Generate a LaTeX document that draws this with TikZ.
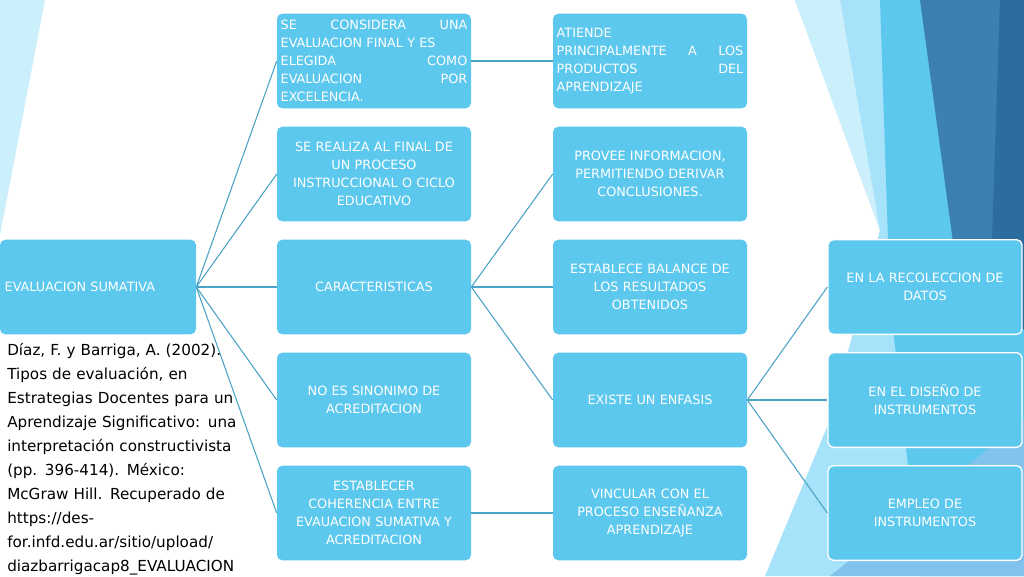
\documentclass[tikz,border=0pt]{standalone}
\usepackage{fontspec}
\setmainfont{DejaVu Sans}
\definecolor{boxblue}{HTML}{5CC8EE}
\definecolor{linkblue}{HTML}{4BA3C6}
\definecolor{steelblue}{HTML}{3C7FB1}
\definecolor{deepblue}{HTML}{2C6DA0}
\tikzset{
  box/.style={rectangle,rounded corners=4pt,fill=boxblue,text=white,
    minimum width=145.5pt,minimum height=71pt,text width=140pt,align=center,
    font=\fontsize{9.6}{13.5}\selectfont,inner sep=2pt},
  wbox/.style={box,draw=white,line width=1pt},
  link/.style={linkblue,line width=0.8pt}
}
\begin{document}
\begin{tikzpicture}[x=0.75pt,y=-0.75pt]
  \useasboundingbox (0,0) rectangle (1024,576);
  % background
  \fill[white] (0,0) rectangle (1024,576);
  \fill[cyan!20] (0,0) -- (45,0) -- (0,235) -- cycle;
  \fill[cyan!35] (795,0) -- (1024,0) -- (1024,576) -- (765,576) -- (830,420) -- (880,230) -- cycle;
  \fill[cyan!20] (795,0) -- (840,0) -- (880,230) -- cycle;
  \fill[boxblue] (880,0) -- (1024,0) -- (1024,576) -- (920,576) -- (890,300) -- cycle;
  \fill[steelblue] (920,0) -- (1024,0) -- (1024,290) -- (965,330) -- cycle;
  \fill[deepblue] (1000,0) -- (1024,0) -- (1024,330) -- (990,300) -- cycle;
  \fill[cyan!80!blue!50] (830,576) -- (1024,420) -- (1024,576) -- cycle;
  % nodes
  \node[box,align=left,minimum width=147pt] (root) at (98,287) {EVALUACION SUMATIVA};
  \node[box,align=left] (final) at (374,61) {SE\hfill CONSIDERA\hfill UNA\\EVALUACION FINAL Y ES\\ELEGIDA\hfill COMO\\EVALUACION\hfill POR\\EXCELENCIA.};
  \node[box] (realiza) at (374,174) {SE REALIZA AL FINAL DE\\UN PROCESO\\INSTRUCCIONAL O CICLO\\EDUCATIVO};
  \node[box] (caract) at (374,287) {CARACTERISTICAS};
  \node[box] (sinonimo) at (374,400) {NO ES SINONIMO DE\\ACREDITACION};
  \node[box] (coherencia) at (374,513) {ESTABLECER\\COHERENCIA ENTRE\\EVAUACION SUMATIVA Y\\ACREDITACION};
  \node[box,align=left] (atiende) at (650,61) {ATIENDE\\PRINCIPALMENTE\hfill A\hfill LOS\\PRODUCTOS\hfill DEL\\APRENDIZAJE};
  \node[box] (provee) at (650,174) {PROVEE INFORMACION,\\PERMITIENDO DERIVAR\\CONCLUSIONES.};
  \node[box] (balance) at (650,287) {ESTABLECE BALANCE DE\\LOS RESULTADOS\\OBTENIDOS};
  \node[box] (enfasis) at (650,400) {EXISTE UN ENFASIS};
  \node[box] (vincular) at (650,513) {VINCULAR CON EL\\PROCESO ENSEÑANZA\\APRENDIZAJE};
  \node[wbox] (recoleccion) at (925,287) {EN LA RECOLECCION DE\\DATOS};
  \node[wbox] (diseno) at (925,400) {EN EL DISEÑO DE\\INSTRUMENTOS};
  \node[wbox] (empleo) at (925,513) {EMPLEO DE\\INSTRUMENTOS};
  % connectors
  \foreach \t in {final,realiza,caract,sinonimo,coherencia}
    \draw[link] (root.east) -- (\t.west);
  \draw[link] (final.east) -- (atiende.west);
  \foreach \t in {provee,balance,enfasis}
    \draw[link] (caract.east) -- (\t.west);
  \draw[link] (coherencia.east) -- (vincular.west);
  \foreach \t in {recoleccion,diseno,empleo}
    \draw[link] (enfasis.east) -- (\t.west);
  % reference
  \node[anchor=north west,text width=200pt,align=left,inner sep=0pt,
    font=\fontsize{11.4}{18}\selectfont] (cita) at (7,343)
    {Díaz, F. y Barriga, A. (2002).\\Tipos de evaluación, en\\Estrategias Docentes para un\\Aprendizaje Significativo: una\\interpretación constructivista\\(pp. 396-414). México:\\McGraw Hill. Recuperado de\\https://des-\\for.infd.edu.ar/sitio/upload/\\diazbarrigacap8\_EVALUACION\\.pdf};
\end{tikzpicture}
\end{document}
